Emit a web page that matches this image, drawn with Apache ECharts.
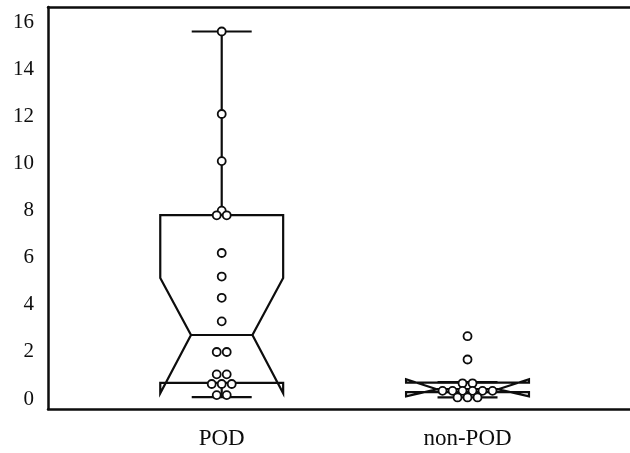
<!DOCTYPE html>
<html><head><meta charset="utf-8">
<script src="https://cdn.jsdelivr.net/npm/echarts@6/dist/echarts.min.js"></script>
<style>html,body{margin:0;padding:0;background:#fff}#c{width:630px;height:453px}</style>
</head><body><div id="c"></div>
<script>
// ---- data ----
const categories = ['POD', 'non-POD'];
const yTickLabels = [0, 2, 4, 6, 8, 10, 12, 14, 16];
// box stats: [whiskerLow, Q1, median, Q3, whiskerHigh]
const podBox = [0.08, 0.69, 2.72, 7.81, 15.6];
const nonPodBox = [0.07, 0.30, 0.42, 0.70, 0.72];
// notch interval: [low, high]
const podNotch = [0.25, 5.14];
const nonPodNotch = [0.12, 0.84];
// individual observations
const podValues = [15.6, 12.1, 10.1, 8.0, 7.8, 7.8, 6.2, 5.2, 4.3, 3.3, 2.0, 2.0, 1.05, 1.05, 0.64, 0.64, 0.64, 0.17, 0.17];
const nonPodValues = [2.67, 1.68, 0.67, 0.67, 0.35, 0.35, 0.35, 0.35, 0.35, 0.35, 0.07, 0.07, 0.07];

const boxes = [podBox, nonPodBox];
const notches = [podNotch, nonPodNotch];
const groups = [podValues, nonPodValues];

const INK = '#0d0d0d';
const X_MIN = 0.2933, X_MAX = 2.661;
const BOX_HW = 0.25, NOTCH_HW = 0.125, STAPLE_HW = 0.122;
const DOT_GAP = 10, DOT_R = 4, ROW_TOL = 3;

function renderBox(params, api) {
  const x = api.value(0);
  const i = Math.round(x) - 1;
  const s = boxes[i], n = notches[i];
  const P = (dx, v) => api.coord([x + dx, v]);
  const st = { stroke: INK, lineWidth: 2.2, fill: 'none' };
  const line = (a, b) => ({ type: 'line', shape: { x1: a[0], y1: a[1], x2: b[0], y2: b[1] }, style: st });
  const poly = [P(-BOX_HW, s[1]), P(BOX_HW, s[1]), P(BOX_HW, n[0]), P(NOTCH_HW, s[2]), P(BOX_HW, n[1]),
                P(BOX_HW, s[3]), P(-BOX_HW, s[3]), P(-BOX_HW, n[1]), P(-NOTCH_HW, s[2]), P(-BOX_HW, n[0])];
  return {
    type: 'group',
    children: [
      line(P(0, s[3]), P(0, s[4])),
      line(P(0, s[1]), P(0, s[0])),
      line(P(-STAPLE_HW, s[4]), P(STAPLE_HW, s[4])),
      line(P(-STAPLE_HW, s[0]), P(STAPLE_HW, s[0])),
      { type: 'polygon', shape: { points: poly }, style: { stroke: INK, lineWidth: 2.2, fill: 'none', lineJoin: 'miter' } },
      line(P(-NOTCH_HW, s[2]), P(NOTCH_HW, s[2]))
    ]
  };
}

function renderDots(params, api) {
  const x = api.value(0);
  const i = Math.round(x) - 1;
  const vals = groups[i].slice().sort((a, b) => b - a);
  const pts = vals.map(v => api.coord([x, v]));
  // group into rows of (nearly) equal height, centred around the category
  const rows = [];
  pts.forEach(p => {
    const r = rows[rows.length - 1];
    if (r && Math.abs(p[1] - r[0][1]) < ROW_TOL) r.push(p); else rows.push([p]);
  });
  const children = [];
  rows.forEach(r => {
    const n = r.length;
    r.forEach((p, k) => {
      children.push({
        type: 'circle',
        shape: { cx: p[0] + (k - (n - 1) / 2) * DOT_GAP, cy: p[1], r: DOT_R },
        style: { fill: '#fff', stroke: INK, lineWidth: 1.8 }
      });
    });
  });
  return { type: 'group', children };
}

const chart = echarts.init(document.getElementById('c'), null, { renderer: 'canvas' });
const axisFont = { fontFamily: 'Liberation Serif', color: INK };
chart.setOption({
  backgroundColor: '#fff',
  animation: false,
  grid: { left: 48, right: 0, top: 7, bottom: 44, containLabel: false, outerBoundsMode: 'none' },
  xAxis: [
    {
      type: 'value', min: X_MIN, max: X_MAX, position: 'bottom',
      axisLine: { show: true, onZero: false, lineStyle: { color: INK, width: 2.5 } },
      axisTick: { show: false }, splitLine: { show: false },
      axisLabel: Object.assign({ customValues: [1, 2], formatter: v => categories[Math.round(v) - 1], fontSize: 23, margin: 18 }, axisFont)
    },
    {
      type: 'value', min: X_MIN, max: X_MAX, position: 'top',
      axisLine: { show: true, onZero: false, lineStyle: { color: INK, width: 2.5 } },
      axisTick: { show: false }, splitLine: { show: false }, axisLabel: { show: false }
    }
  ],
  yAxis: {
    type: 'value', min: -0.42, max: 16.64,
    axisLine: { show: true, onZero: false, lineStyle: { color: INK, width: 2.5 } },
    axisTick: { show: false }, splitLine: { show: false },
    axisLabel: Object.assign({ customValues: yTickLabels, fontSize: 21, margin: 14 }, axisFont)
  },
  series: [
    { type: 'custom', renderItem: renderBox, encode: { x: 0, y: 1 }, data: [[1, podBox[2]], [2, nonPodBox[2]]], z: 2 },
    { type: 'custom', renderItem: renderDots, encode: { x: 0, y: 1 }, data: [[1, podBox[2]], [2, nonPodBox[2]]], z: 3 }
  ]
});
</script>
</body></html>
